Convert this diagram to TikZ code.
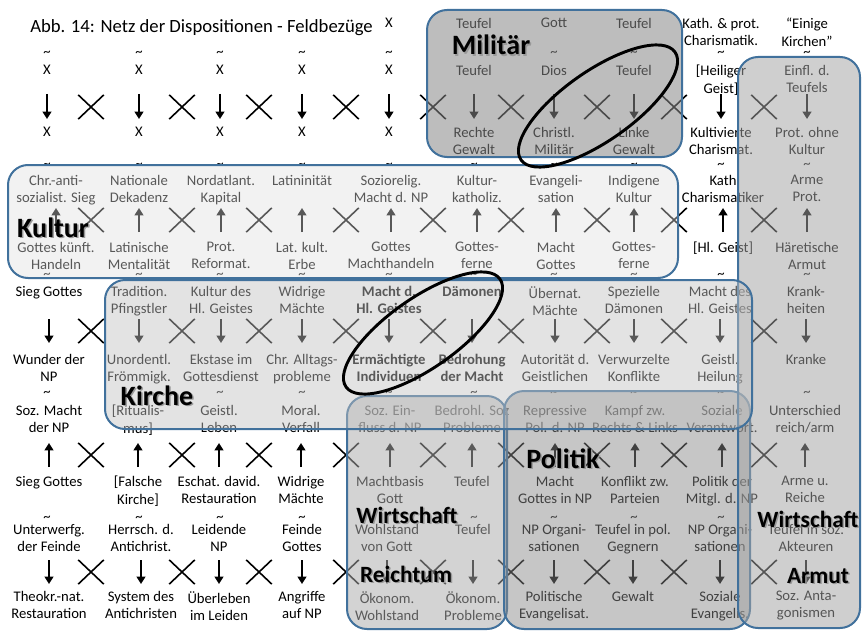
\documentclass[tikz,border=0pt]{standalone}
\usepackage{fontspec}
\setmainfont{Carlito}
\usetikzlibrary{arrows.meta,shapes.misc}
\definecolor{rahmen}{HTML}{41719C}

\tikzset{
  txt/.style={anchor=north, align=center, inner sep=0pt, font=\fontsize{11}{12.9}\selectfont},
  tilde/.style={inner sep=0pt, font=\fontsize{11}{12.9}\selectfont},
  kreuz/.style={draw, cross out, line width=1.2pt, inner sep=0pt,
    minimum width=18pt, minimum height=17pt},
  pfeil/.style={line width=1.8pt, -{Triangle[width=6.5pt,length=5.5pt]}},
  feld/.style={draw=rahmen, line width=1.5pt, rounded corners=15pt},
  ovalrand/.style={draw=black, line width=2.2pt},
  etikett/.style={anchor=base, inner sep=0pt, font=\bfseries\fontsize{21}{25}\selectfont},
  etikettklein/.style={etikett, font=\bfseries\fontsize{17.5}{21}\selectfont},
  schatten/.style={text=black!40},
}

\begin{document}
\begin{tikzpicture}[x=0.75pt, y=-0.75pt]
  % Background
  \useasboundingbox (0,0) rectangle (862,631);

  % Title
  \node[anchor=base west, inner sep=0pt, font=\fontsize{14}{17}\selectfont] (titel)
    at (30,33) {Abb. 14: Netz der Dispositionen - Feldbezüge};

  % Block A
  \foreach \x/\t [count=\i from 5] in {389/X, 474/Teufel, 554/Gott, 634/Teufel,
      721/{Kath. \& prot.\\Charismatik.}, 807/{“Einige\\Kirchen”}}
    \node[txt] (a0-\i) at (\x,18) {\t};
  \foreach \x/\t [count=\i] in {47/X, 139/X, 220/X, 302/X, 389/X, 474/Teufel, 554/Dios,
      634/Teufel, 721/{[Heiliger\\Geist]}, 807/{Einfl. d.\\Teufels}}
    \node[txt] (a1-\i) at (\x,65) {\t};
  \foreach \x/\t [count=\i] in {47/X, 139/X, 220/X, 302/X, 389/X, 474/{Rechte\\Gewalt},
      554/{Christl.\\Militär}, 634/{Linke\\Gewalt}, 721/{Kultivierte\\Charismat.},
      807/{Prot. ohne\\Kultur}}
    \node[txt] (a2-\i) at (\x,127) {\t};

  % Block B
  \foreach \x/\t [count=\i] in {56/{Chr.-anti-\\sozialist. Sieg}, 139/{Nationale\\Dekadenz},
      221/{Nordatlant.\\Kapital}, 302/Latininität, 391/{Soziorelig.\\Macht d. NP},
      477/{Kultur-\\katholiz.}, 556/{Evangeli-\\sation}, 634/{Indigene\\Kultur},
      723/{Kath\\Charismatiker}, 807/{Arme\\Prot.}}
    \node[txt] (b1-\i) at (\x,175) {\t};
  \foreach \x/\t [count=\i] in {56/{Gottes künft.\\Handeln}, 139/{Latinische\\Mentalität},
      221/{Prot.\\Reformat.}, 302/{Lat. kult.\\Erbe}, 391/{Gottes\\Machthandeln},
      477/{Gottes-\\ferne}, 556/{Macht\\Gottes}, 634/{Gottes-\\ferne},
      723/{[Hl. Geist]}, 807/{Häretische\\Armut}}
    \node[txt] (b2-\i) at (\x,242) {\t};

  % Block C
  \foreach \x/\t [count=\i] in {49/{Sieg Gottes}, 139/{Tradition.\\Pfingstler},
      221/{Kultur des\\Hl. Geistes}, 302/{Widrige\\Mächte},
      389/{\bfseries Macht d.\\\bfseries Hl. Geistes}, 472/{\bfseries Dämonen},
      555/{Übernat.\\Mächte}, 634/{Spezielle\\Dämonen}, 720/{Macht des\\Hl. Geistes},
      806/{Krank-\\heiten}}
    \node[txt] (c1-\i) at (\x,286) {\t};
  \foreach \x/\t [count=\i] in {49/{Wunder der\\NP}, 139/{Unordentl.\\Frömmigk.},
      221/{Ekstase im\\Gottesdienst}, 302/{Chr. Alltags-\\probleme},
      389/{\bfseries Ermächtigte\\\bfseries Individuen},
      472/{\bfseries Bedrohung\\\bfseries der Macht}, 555/{Autorität d.\\Geistlichen},
      634/{Verwurzelte\\Konflikte}, 720/{Geistl.\\Heilung}, 806/Kranke}
    \node[txt] (c2-\i) at (\x,354) {\t};

  % Block D
  \foreach \x/\t [count=\i] in {49/{Soz. Macht\\der NP}, 138/{[Ritualis-\\mus]},
      219/{Geistl.\\Leben}, 301/{Moral.\\Verfall}, 390/{Soz. Ein-\\fluss d. NP},
      472/{Bedrohl. Soz\\Probleme}, 555/{Repressive\\Pol. d. NP},
      635/{Kampf zw.\\Rechts \& Links}, 722/{Soziale\\Verantwort.},
      805/{Unterschied\\reich/arm}}
    \node[txt] (d1-\i) at (\x,405) {\t};
  \foreach \x/\t [count=\i] in {49/{Sieg Gottes}, 138/{[Falsche\\Kirche]},
      219/{Eschat. david.\\Restauration}, 301/{Widrige\\Mächte}, 390/{Machtbasis\\Gott},
      472/Teufel, 555/{Macht\\Gottes in NP}, 635/{Konflikt zw.\\Parteien},
      722/{Politik der\\Mitgl. d. NP}, 805/{Arme u.\\Reiche}}
    \node[txt] (d2-\i) at (\x,476) {\t};

  % Block E
  \foreach \x/\t [count=\i] in {49/{Unterwerfg.\\der Feinde}, 141/{Herrsch. d.\\Antichrist.},
      219/{Leidende\\NP}, 302/{Feinde\\Gottes}, 387/{Wohlstand\\von Gott}, 473/Teufel,
      554/{NP Organi-\\sationen}, 633/{Teufel in pol.\\Gegnern}, 720/{NP Organi-\\sationen},
      806/{Teufel in soz.\\Akteuren}}
    \node[txt] (e1-\i) at (\x,524) {\t};
  \foreach \x/\t [count=\i] in {49/{Theokr.-nat.\\Restauration}, 141/{System des\\Antichristen},
      219/{Überleben\\im Leiden}, 302/{Angriffe\\auf NP}, 387/{Ökonom.\\Wohlstand},
      473/{Ökonom.\\Probleme}, 554/{Politische\\Evangelisat.}, 633/Gewalt,
      720/{Soziale\\Evangelis.}, 806/{Soz. Anta-\\gonismen}}
    \node[txt] (e2-\i) at (\x,591) {\t};

  % Tilden
  \foreach \x [count=\i] in {47,139,220,302,389,554,634,721,807}
    \node[tilde] (s1-\i) at (\x,54) {\textasciitilde};
  \foreach \x [count=\i] in {47,139,220,302,389,474,554,634,721,807}{
    \node[tilde] (s2-\i) at (\x,166) {\textasciitilde};
    \node[tilde] (s3-\i) at (\x,276) {\textasciitilde};
  }
  \foreach \x [count=\i] in {47,220,302,389,474,554,634,721,807}
    \node[tilde] (s4-\i) at (\x,394) {\textasciitilde};
  \foreach \x [count=\i] in {47,139,220,302,474,554,634,721}
    \node[tilde] (s5-\i) at (\x,519) {\textasciitilde};

  % Kreuze
  \foreach \y [count=\r] in {107,220,331,455,572}
    \foreach \x [count=\i] in {91,182,259,346,433,511,597,674,764}
      \node[kreuz] (k\r-\i) at (\x,\y) {};

  % Pfeile
  \foreach \i in {1,...,10}{
    \draw[pfeil, shorten <=21.75pt, shorten >=6pt] (a1-\i.north) -- (a2-\i.north);
    \draw[pfeil, shorten <=7.5pt, shorten >=24.75pt] (b2-\i.north) -- (b1-\i.north);
    \draw[pfeil, shorten <=24.75pt, shorten >=8.25pt] (c1-\i.north) -- (c2-\i.north);
    \draw[pfeil, shorten <=6.75pt, shorten >=28.5pt] (d2-\i.north) -- (d1-\i.north);
    \draw[pfeil, shorten <=27pt, shorten >=5.25pt] (e1-\i.north) -- (e2-\i.north);
  }

  % Felder
  \draw[feld, fill=black!47, fill opacity=0.55] (427,10) rectangle (682,157);
  \draw[feld, fill=black!13, fill opacity=0.4] (8,165) rectangle (678,278);
  \draw[feld, fill=black!33, fill opacity=0.53] (347,396) rectangle (507,629);
  \draw[feld, fill=black!47, fill opacity=0.48] (504,391) rectangle (750,629);
  \draw[feld, fill=black!36, fill opacity=0.52] (738,57) rectangle (860,628);
  \draw[feld, fill=black!24, fill opacity=0.46] (105,280) rectangle (752,429);

  % Ovale
  \draw[ovalrand, rotate around={35:(598,106)}] (598,106) ellipse [x radius=94, y radius=35];
  \draw[ovalrand, rotate around={35:(423,333)}] (423,333) ellipse [x radius=94, y radius=35];

  % Feldnamen
  \foreach \x/\y/\t [count=\i] in {491/55/Militär, 53/237/Kultur, 157/405/Kirche,
      563/468/Politik}{
    \node[etikett, schatten] (ls\i) at (\x+1.5,\y+1.5) {\t};
    \node[etikett] (l\i) at (\x,\y) {\t};
  }
  \foreach \x/\y/\t [count=\i] in {407/523/Wirtschaft, 406/582/Reichtum,
      808/527/Wirtschaft, 818/583/Armut}{
    \node[etikettklein, schatten] (lks\i) at (\x+1.5,\y+1.5) {\t};
    \node[etikettklein] (lk\i) at (\x,\y) {\t};
  }
\end{tikzpicture}
\end{document}
